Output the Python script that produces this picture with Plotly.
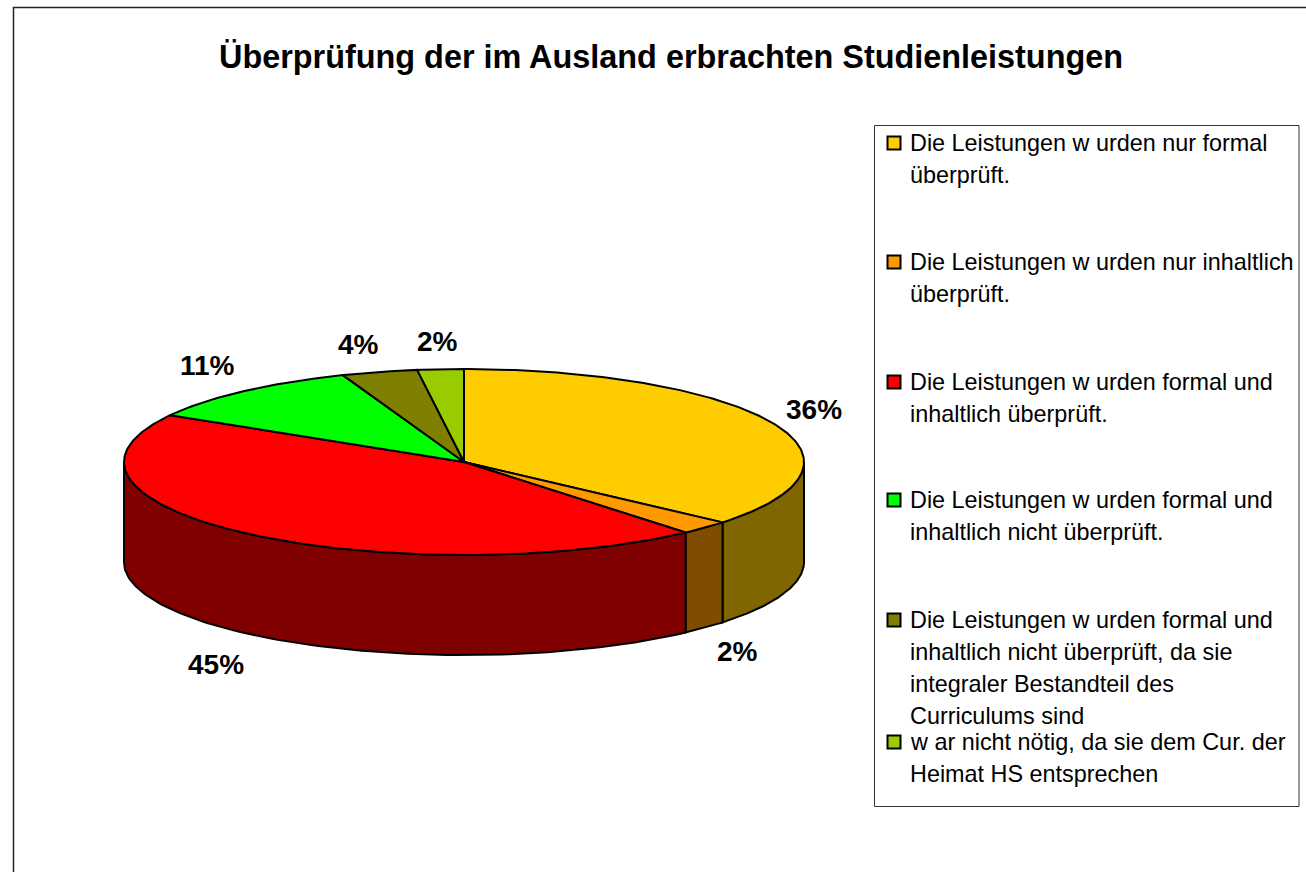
import numpy as np
import plotly.graph_objects as go

# ---- data ----
categories = [
    "Die Leistungen w urden nur formal überprüft.",
    "Die Leistungen w urden nur inhaltlich überprüft.",
    "Die Leistungen w urden formal und inhaltlich überprüft.",
    "Die Leistungen w urden formal und inhaltlich nicht überprüft.",
    "Die Leistungen w urden formal und inhaltlich nicht überprüft, da sie integraler Bestandteil des Curriculums sind",
    "w ar nicht nötig, da sie dem Cur. der Heimat HS entsprechen",
]
legend_lines = [
    ["Die Leistungen w urden nur formal", "überprüft."],
    ["Die Leistungen w urden nur inhaltlich", "überprüft."],
    ["Die Leistungen w urden formal und", "inhaltlich überprüft."],
    ["Die Leistungen w urden formal und", "inhaltlich nicht überprüft."],
    ["Die Leistungen w urden formal und", "inhaltlich nicht überprüft, da sie",
     "integraler Bestandteil des", "Curriculums sind"],
    ["w ar nicht nötig, da sie dem Cur. der", "Heimat HS entsprechen"],
]
values = [36.25, 2.45, 44.7, 10.8, 3.6, 2.2]
top_colors = ["#FFCC00", "#FF9900", "#FF0000", "#00FF00", "#808000", "#99CC00"]
side_colors = ["#806600", "#804D00", "#800000", "#008000", "#404000", "#4D6600"]
title_text = "Überprüfung der im Ausland erbrachten Studienleistungen"

# ---- layout constants ----
W, H = 1306, 872
CX, CY, RX, RY, DEPTH = 464, 462, 340, 93, 100
label_pos = [(814, 409), (737, 651), (216, 664), (207, 365), (358, 344), (437, 341)]
legend_first_y = [143, 262, 382, 500, 620, 742]
LINE_STEP = 32
SWATCH_X, TEXT_X = 894, 908
LEGEND_FONT, LABEL_FONT, TITLE_FONT = 23.4, 28, 32.4
EDGE = dict(color="black", width=2)
FONT = "Liberation Sans, Arial, sans-serif"


def ell(deg):
    a = np.radians(deg)
    return CX + RX * np.sin(a), CY - RY * np.cos(a)


fig = go.Figure()
total = sum(values)
edges = np.concatenate([[0], np.cumsum(values)]) / total * 360

# front walls
for i, v in enumerate(values):
    a0, a1 = max(edges[i], 90), min(edges[i + 1], 270)
    if a1 <= a0:
        continue
    t = np.linspace(a0, a1, 100)
    x, y = ell(t)
    xs = np.concatenate([x, x[::-1], x[:1]])
    ys = np.concatenate([y, y[::-1] + DEPTH, y[:1]])
    fig.add_trace(go.Scatter(x=xs, y=ys, mode="lines", fill="toself", fillcolor=side_colors[i],
                             line=EDGE, hoverinfo="skip", showlegend=False))

# top slices
for i, v in enumerate(values):
    t = np.linspace(edges[i], edges[i + 1], max(int(v * 5), 8))
    x, y = ell(t)
    xs = np.concatenate([[CX], x, [CX]])
    ys = np.concatenate([[CY], y, [CY]])
    fig.add_trace(go.Scatter(x=xs, y=ys, mode="lines", fill="toself", fillcolor=top_colors[i],
                             line=EDGE, name=categories[i], hoverinfo="name", showlegend=False))

# legend swatches
fig.add_trace(go.Scatter(
    x=[SWATCH_X] * len(categories), y=legend_first_y, mode="markers",
    marker=dict(symbol="square", size=13, color=top_colors, line=dict(color="black", width=2)),
    text=categories, hoverinfo="text", showlegend=False))

ann = [dict(x=671, y=57, text=f"<b>{title_text}</b>", showarrow=False, xanchor="center", yanchor="middle",
            font=dict(family=FONT, size=TITLE_FONT, color="black"))]
for (lx, ly), v in zip(label_pos, values):
    ann.append(dict(x=lx, y=ly, text=f"<b>{round(v / total * 100)}%</b>", showarrow=False,
                    xanchor="center", yanchor="middle",
                    font=dict(family=FONT, size=LABEL_FONT, color="black")))
for lines, y0 in zip(legend_lines, legend_first_y):
    for j, s in enumerate(lines):
        ann.append(dict(x=TEXT_X, y=y0 + j * LINE_STEP, text=s, showarrow=False,
                        xanchor="left", yanchor="middle",
                        font=dict(family=FONT, size=LEGEND_FONT, color="black")))

fig.update_layout(
    width=W, height=H, margin=dict(l=0, r=0, t=0, b=0),
    paper_bgcolor="white", plot_bgcolor="white", showlegend=False,
    xaxis=dict(range=[0, W], visible=False, fixedrange=True),
    yaxis=dict(range=[H, 0], visible=False, fixedrange=True),
    annotations=ann,
    shapes=[
        dict(type="rect", x0=13.5, y0=7.5, x1=1400, y1=950, line=dict(color="#222222", width=1.5), layer="below"),
        dict(type="rect", x0=874.5, y0=125.5, x1=1299, y1=806.5, line=dict(color="#333333", width=1), layer="below"),
    ],
)
fig.write_html("out.html", config=dict(displayModeBar=False),
               post_script="document.body.style.margin='0';document.body.style.overflow='hidden';")
